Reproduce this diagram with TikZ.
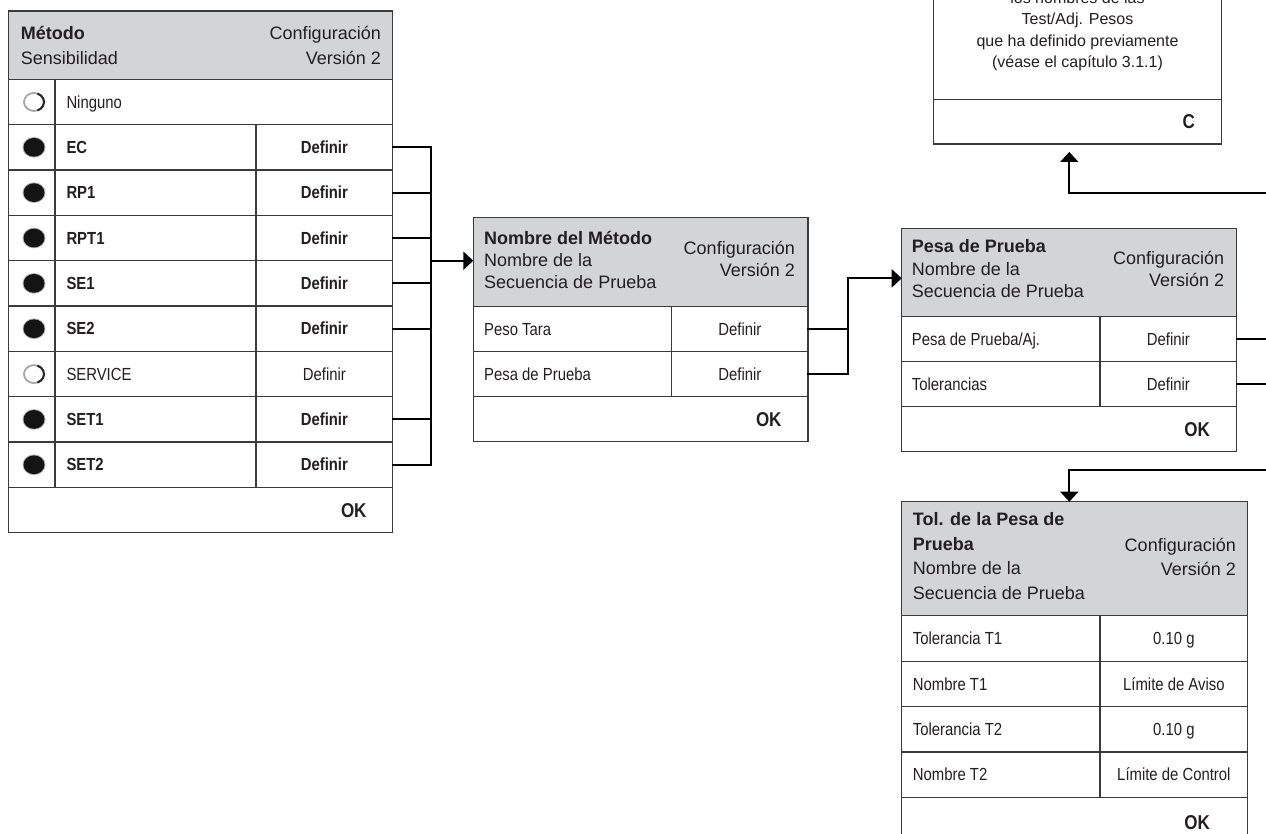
\documentclass[tikz,border=0pt]{standalone}
\usepackage{fontspec}
\setmainfont{Liberation Sans}
\newfontfamily\condfont{Liberation Sans}[FakeStretch=0.85]
\usetikzlibrary{arrows.meta,calc}
\definecolor{hdrgray}{HTML}{D3D4D6}
\definecolor{bordergray}{HTML}{3A3A3A}
\definecolor{ink}{HTML}{231F20}
\tikzset{
  hdr/.style={draw=bordergray, fill=hdrgray, line width=1.3pt, inner sep=0pt, outer sep=0pt, anchor=north west},
  cell/.style={draw=bordergray, fill=white, line width=1.3pt, inner sep=0pt, outer sep=0pt, anchor=north west},
  coldiv/.style={draw=bordergray, line width=1.3pt},
  conn/.style={draw=black, line width=2pt, line cap=rect},
  arr/.style={draw=black, line width=2pt, -{Triangle[length=10pt,width=18pt]}},
  htxt/.style={font=\fontsize{18}{22}\selectfont, inner sep=0pt, text=ink},
  hbold/.style={font=\fontsize{18}{22}\selectfont\bfseries, inner sep=0pt, text=ink},
  rtxt/.style={font=\condfont\fontsize{17.5}{20}\selectfont, inner sep=0pt, text=ink},
  btxt/.style={font=\condfont\fontsize{17.5}{20}\selectfont\bfseries, inner sep=0pt, text=ink},
  ttxt/.style={font=\fontsize{16}{20}\selectfont, inner sep=0pt, text=ink, anchor=base},
  oktxt/.style={font=\condfont\fontsize{20}{22}\selectfont\bfseries, inner sep=0pt, anchor=base east, text=ink},
  lbase/.style={anchor=base west, yshift=-6.2pt},
  cbase/.style={anchor=base, yshift=-6.2pt},
  dotfill/.style={fill=black!92},
  ringlight/.style={draw=black!35, line width=1.8pt},
  ringdark/.style={draw=black!85, line width=2pt},
}
\begin{document}
\begin{tikzpicture}[x=1pt,y=-1pt]
\path[use as bounding box, clip] (0,0) rectangle (1266,834);
\fill[white] (0,0) rectangle (1266,834);

% ---------------- Box 1: Método / Sensibilidad ----------------
\node[hdr, minimum width=384.4pt, minimum height=68.3pt] (m1h) at (8.3,11) {};
\foreach \i/\y in {1/79.3, 2/124.65, 3/170, 4/215.35, 5/260.7, 6/306.05, 7/351.4, 8/396.75, 9/442.1}
  \node[cell, minimum width=384.4pt, minimum height=45.35pt] (m1r\i) at (8.3,\y) {};
\node[cell, minimum width=384.4pt, minimum height=45.35pt] (m1ok) at (8.3,487.45) {};
\draw[coldiv] (m1r1.north west -| 55,0) -- (m1r9.south west -| 55,0);
\draw[coldiv] (m1r2.north west -| 256,0) -- (m1r9.south west -| 256,0);

\node[hbold, anchor=base west] (m1t1) at (20.7,40) {Método};
\node[htxt, anchor=base west] (m1t2) at (20.7,65) {Sensibilidad};
\node[htxt, anchor=base east] (m1t3) at (381,40) {Configuración};
\node[htxt, anchor=base east] (m1t4) at (381,65) {Versión 2};

\node[rtxt, lbase] (m1l1) at ([xshift=58pt]m1r1.west) {Ninguno};
\foreach \i/\lab/\sty in {2/EC/btxt, 3/RP1/btxt, 4/RPT1/btxt, 5/SE1/btxt, 6/SE2/btxt, 7/SERVICE/rtxt, 8/SET1/btxt, 9/SET2/btxt}{
  \node[\sty, lbase] (m1l\i) at ([xshift=58pt]m1r\i.west) {\lab};
  \node[\sty, cbase] (m1d\i) at ([xshift=-68.35pt]m1r\i.east) {Definir};
}
\node[oktxt] (m1o) at ([xshift=-26pt,yshift=-7pt]m1ok.east) {OK};

% radio buttons
\foreach \i in {2,3,4,5,6,8,9}{
  \fill[black!30] ([xshift=25.7pt]m1r\i.west) ellipse [x radius=11.5pt, y radius=10.3pt];
  \fill[dotfill] ([xshift=25.7pt]m1r\i.west) ellipse [x radius=10.5pt, y radius=9.4pt];
}
\foreach \i in {1,7}{
  \draw[ringlight] ([xshift=25.7pt]m1r\i.west) ellipse [x radius=10pt, y radius=9pt];
  \draw[ringdark] ([xshift=25.7pt]m1r\i.west) ++(-70:10pt and 9pt) arc[start angle=-70, end angle=70, x radius=10pt, y radius=9pt];
}

% ---------------- Box 2: Nombre del Método ----------------
\node[hdr, minimum width=334.7pt, minimum height=89.4pt] (m2h) at (473.3,217.3) {};
\node[cell, minimum width=334.7pt, minimum height=45pt] (m2r1) at (473.3,306.7) {};
\node[cell, minimum width=334.7pt, minimum height=45pt] (m2r2) at (473.3,351.7) {};
\node[cell, minimum width=334.7pt, minimum height=45pt] (m2ok) at (473.3,396.7) {};
\draw[coldiv] (m2r1.north -| 671.7,0) -- (m2r2.south -| 671.7,0);

\node[hbold, anchor=base west] (m2t1) at (484,245) {Nombre del Método};
\node[htxt, anchor=base west] (m2t2) at (484,267) {Nombre de la};
\node[htxt, anchor=base west] (m2t3) at (484,289) {Secuencia de Prueba};
\node[htxt, anchor=base east] (m2t4) at (795,255) {Configuración};
\node[htxt, anchor=base east] (m2t5) at (795,277) {Versión 2};
\node[rtxt, lbase] (m2l1) at ([xshift=10.7pt]m2r1.west) {Peso Tara};
\node[rtxt, lbase] (m2l2) at ([xshift=10.7pt]m2r2.west) {Pesa de Prueba};
\node[rtxt, cbase] (m2d1) at ([xshift=-68.15pt]m2r1.east) {Definir};
\node[rtxt, cbase] (m2d2) at ([xshift=-68.15pt]m2r2.east) {Definir};
\node[oktxt] (m2o) at ([xshift=-26.3pt,yshift=-7pt]m2ok.east) {OK};

% ---------------- Box 3: Pesa de Prueba ----------------
\node[hdr, minimum width=335pt, minimum height=88.4pt] (m3h) at (901.7,228.3) {};
\node[cell, minimum width=335pt, minimum height=45pt] (m3r1) at (901.7,316.7) {};
\node[cell, minimum width=335pt, minimum height=45pt] (m3r2) at (901.7,361.7) {};
\node[cell, minimum width=335pt, minimum height=45pt] (m3ok) at (901.7,406.7) {};
\draw[coldiv] (m3r1.north -| 1100,0) -- (m3r2.south -| 1100,0);

\node[hbold, anchor=base west] (m3t1) at (911.7,253) {Pesa de Prueba};
\node[htxt, anchor=base west] (m3t2) at (911.7,275.3) {Nombre de la};
\node[htxt, anchor=base west] (m3t3) at (911.7,297.6) {Secuencia de Prueba};
\node[htxt, anchor=base east] (m3t4) at (1224.3,265) {Configuración};
\node[htxt, anchor=base east] (m3t5) at (1224.3,287) {Versión 2};
\node[rtxt, lbase] (m3l1) at ([xshift=10pt]m3r1.west) {Pesa de Prueba/Aj.};
\node[rtxt, lbase] (m3l2) at ([xshift=10pt]m3r2.west) {Tolerancias};
\node[rtxt, cbase] (m3d1) at ([xshift=-68.35pt]m3r1.east) {Definir};
\node[rtxt, cbase] (m3d2) at ([xshift=-68.35pt]m3r2.east) {Definir};
\node[oktxt] (m3o) at ([xshift=-26.7pt,yshift=-7pt]m3ok.east) {OK};

% ---------------- Box 4: Tol. de la Pesa de Prueba ----------------
\node[hdr, minimum width=346pt, minimum height=114pt] (m4h) at (901.7,501.7) {};
\foreach \i/\y in {1/615.7, 2/661.15, 3/706.6, 4/752.05}
  \node[cell, minimum width=346pt, minimum height=45.45pt] (m4r\i) at (901.7,\y) {};
\node[cell, minimum width=346pt, minimum height=45.5pt] (m4ok) at (901.7,797.5) {};
\draw[coldiv] (m4r1.north -| 1100,0) -- (m4r4.south -| 1100,0);

\node[hbold, anchor=base west] (m4t1) at (912.7,525) {Tol. de la Pesa de};
\node[hbold, anchor=base west] (m4t2) at (912.7,550) {Prueba};
\node[htxt, anchor=base west] (m4t3) at (912.7,574.5) {Nombre de la};
\node[htxt, anchor=base west] (m4t4) at (912.7,599) {Secuencia de Prueba};
\node[htxt, anchor=base east] (m4t5) at (1236,551) {Configuración};
\node[htxt, anchor=base east] (m4t6) at (1236,575) {Versión 2};
\foreach \i/\lab/\val in {1/Tolerancia T1/0.10 g, 2/Nombre T1/Límite de Aviso, 3/Tolerancia T2/0.10 g, 4/Nombre T2/Límite de Control}{
  \node[rtxt, lbase] (m4l\i) at ([xshift=11pt]m4r\i.west) {\lab};
  \node[rtxt, cbase] (m4v\i) at ([xshift=-73.85pt]m4r\i.east) {\val};
}
\node[oktxt] (m4o) at (1210,829) {OK};

% ---------------- Box 5: top box (cut off) ----------------
\node[cell, minimum width=288.4pt, minimum height=179.3pt] (m5b) at (933.3,-80) {};
\node[cell, minimum width=288.4pt, minimum height=44.7pt] (m5c) at (933.3,99.3) {};
\node[ttxt] (m5t1) at (1077.5,3.5) {los nombres de las};
\node[ttxt] (m5t2) at (1077.5,24.8) {Test/Adj. Pesos};
\node[ttxt] (m5t3) at (1077.5,46.2) {que ha definido previamente};
\node[ttxt] (m5t4) at (1077.5,67.7) {(véase el capítulo 3.1.1)};
\node[oktxt] (m5o) at ([xshift=-26.7pt,yshift=-7pt]m5c.east) {C};

% ---------------- Connectors ----------------
\coordinate (b1) at (430.7,0);
\foreach \i in {2,3,4,5,6,8,9}
  \draw[conn] (m1r\i.east) -- (m1r\i.east -| b1);
\draw[conn] (m1r2.east -| b1) -- (m1r9.east -| b1);
\coordinate (b1j) at (430.7,260.7);
\draw[arr] (b1j) -- (b1j -| m2h.west);

\coordinate (b2) at (848.3,278.3);
\draw[conn] (m2r1.east) -- (m2r1.east -| b2);
\draw[conn] (m2r2.east) -- (m2r2.east -| b2);
\draw[conn] (b2) -- (m2r2.east -| b2);
\draw[arr] (b2) -- (b2 -| m3h.west);

\coordinate (ex) at (1290,0);
\draw[conn] (m3r1.east) -- (m3r1.east -| ex);
\draw[conn] (m3r2.east) -- (m3r2.east -| ex);

\coordinate (rt) at (1290,193.3);
\coordinate (rtk) at (1069.3,193.3);
\draw[arr] (rt) -- (rtk) -- ([yshift=-8pt]m5c.south -| rtk);

\coordinate (rb) at (1290,470);
\coordinate (rbk) at (1069.3,470);
\draw[arr] (rb) -- (rbk) -- (rbk |- m4h.north);
\end{tikzpicture}
\end{document}
